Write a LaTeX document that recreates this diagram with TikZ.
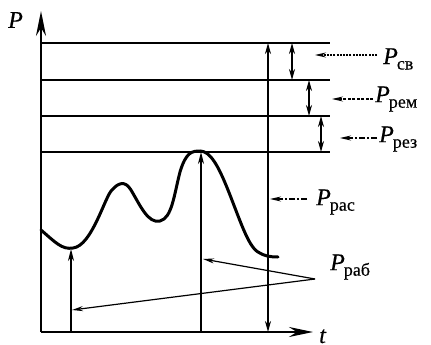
\documentclass[tikz,border=0pt]{standalone}
\usepackage{fontspec}
\setmainfont{Liberation Serif}
\newfontfamily\lblfont{Liberation Serif}[FakeBold=0.4, ItalicFeatures={FakeBold=0.4}]
\usetikzlibrary{arrows.meta}
\newcommand{\PLab}[1]{\lblfont\fontsize{24}{26}\selectfont\textit{P}\kern-1pt\raisebox{-0.5ex}{\fontsize{18}{20}\selectfont #1}}
\tikzset{
  axis/.style={line width=2pt},
  level/.style={line width=1.5pt},
  curve/.style={line width=3pt, line cap=round},
  dbl/.style={line width=1.6pt, {Stealth[length=11pt,width=6pt]}-{Stealth[length=11pt,width=6pt]}},
  up/.style={line width=1.6pt, -{Stealth[length=12pt,width=6pt]}},
  ptr/.style={line width=1.2pt, -{Stealth[length=11pt,width=5pt]}},
  lbl/.style={inner sep=0pt, anchor=west}
}
\begin{document}
\begin{tikzpicture}[x=1pt,y=-1pt]
\useasboundingbox (0,0) rectangle (431,345);
% axes
\coordinate (O) at (41,332);
\coordinate (Ytop) at (41,11);
\coordinate (Xend) at (313,332);
\draw[axis,-{Stealth[length=25pt,width=10pt]}] (O) -- (Ytop);
\draw[axis,-{Stealth[length=24pt,width=10pt]}] (O) -- (Xend);
\node[lbl] (Pax) at (8,20) {\lblfont\fontsize{24}{26}\selectfont\textit{P}};
\node[inner sep=0pt, anchor=base west] (tax) at (319,343) {\lblfont\fontsize{24}{26}\selectfont\textit{t}};
% levels
\foreach \n/\y in {a/43,b/80,c/116,d/152}{
  \coordinate (L\n0) at (41,\y);
  \coordinate (L\n1) at (330,\y);
  \draw[level] (L\n0) -- (L\n1);
}
% big double arrow
\coordinate (R0) at (268,43);
\coordinate (R1) at (268,332);
\draw[dbl] (R1) -- (R0);
% small double arrows
\coordinate (s1a) at (292,43); \coordinate (s1b) at (292,80);
\coordinate (s2a) at (309,80); \coordinate (s2b) at (309,116);
\coordinate (s3a) at (321,116); \coordinate (s3b) at (321,152);
\draw[dbl] (s1a) -- (s1b);
\draw[dbl] (s2a) -- (s2b);
\draw[dbl] (s3a) -- (s3b);
% curve
\draw[curve] (41,230) .. controls (55,242) and (62,250) .. (73,248)
  .. controls (92,246) and (105,196) .. (112,190)
  .. controls (118,183) and (125,180) .. (131,190)
  .. controls (140,205) and (148,224) .. (160,221)
  .. controls (172,218) and (174,195) .. (180,172)
  .. controls (186,152) and (192,151) .. (200,151)
  .. controls (210,151) and (218,165) .. (228,190)
  .. controls (240,220) and (248,246) .. (258,252)
  .. controls (264,256) and (270,257) .. (278,257);
% vertical arrows
\coordinate (v1a) at (71,332); \coordinate (v1b) at (71,249);
\coordinate (v2a) at (201,332); \coordinate (v2b) at (201,152);
\draw[up] (v1a) -- (v1b);
\draw[up] (v2a) -- (v2b);
% labels
\node[lbl] (Psv) at (383,59) {\PLab{св}};
\node[lbl] (Prem) at (375,99) {\PLab{рем}};
\node[lbl] (Prez) at (379,139) {\PLab{рез}};
\node[lbl] (Pras) at (316,202) {\PLab{рас}};
\node[lbl] (Prab) at (330,267) {\PLab{раб}};
% pointer arrows
\coordinate (d1) at (377,55); \coordinate (d1e) at (315,55);
\coordinate (d2) at (373,99); \coordinate (d2e) at (332,99);
\coordinate (d3) at (377,138); \coordinate (d3e) at (340,138);
\coordinate (d4) at (307,199); \coordinate (d4e) at (270,199);
\draw[ptr, dash pattern=on 2pt off 1.2pt] (d1) -- (d1e);
\draw[ptr, dash pattern=on 3pt off 1.5pt] (d2) -- (d2e);
\draw[ptr, dash pattern=on 6pt off 2pt on 2pt off 2pt] (d3) -- (d3e);
\draw[ptr, dash pattern=on 6pt off 2pt on 2pt off 2pt] (d4) -- (d4e);
\coordinate (rab) at (315,279);
\coordinate (r1) at (203,259);
\coordinate (r2) at (72,310);
\draw[ptr] (rab) -- (r1);
\draw[ptr] (rab) -- (r2);
\end{tikzpicture}
\end{document}
